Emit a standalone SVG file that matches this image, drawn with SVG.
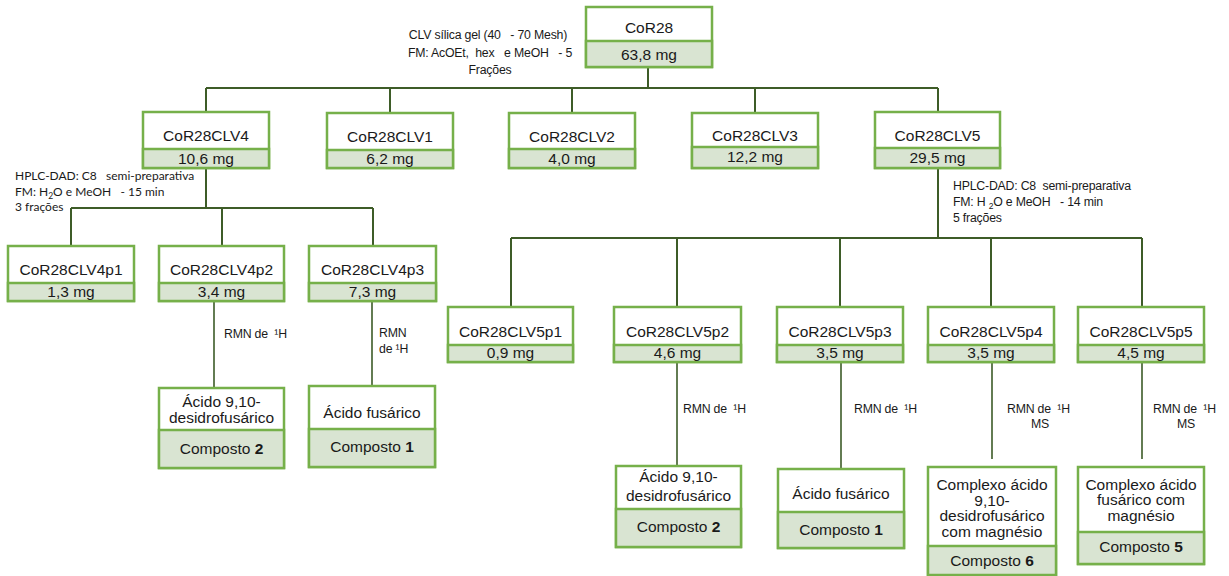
<svg xmlns="http://www.w3.org/2000/svg" width="1229" height="576" viewBox="0 0 1229 576">
<defs>
<style>
.bg{fill:#ffffff}
.box{fill:#ffffff;stroke:#76b04a;stroke-width:2.5}
.mg{fill:#d9e4d2;stroke:#76b04a;stroke-width:2.5}
.t{font-family:"Liberation Sans",Arial,sans-serif;font-size:15.5px;fill:#1a1a1a;text-anchor:middle}
.lbl{font-family:"Liberation Sans",Arial,sans-serif;font-size:12.3px;fill:#1a1a1a;letter-spacing:-0.2px;white-space:pre}
.lblc{font-family:"Lato","Liberation Sans",sans-serif;font-size:12px;fill:#1a1a1a;white-space:pre}
.c{fill:none;stroke:#3e5c28;stroke-width:2}
.c2{fill:none;stroke:#3e5c28;stroke-width:1.6}
</style>
</defs>
<rect class="bg" x="0" y="0" width="1229" height="576"/>

<g id="connectors">
<path class="c" d="M648 67V88M206 88H938M206 88V112M390 88V113M572 88V113M755 88V113M938 88V112"/>
<path class="c" d="M206 168V208M71 208H373M71 208V246M222 208V246M373 208V246"/>
<path class="c" d="M938 168V238M511 238H1142M511 238V307M677 238V307M840 238V307M991 238V307M1142 238V307"/>
<path class="c2" d="M214 301V388M372 301V386M677 362V466M841 362V469M992 362V459M1142 362V459"/>
</g>

<g id="labels" xml:space="preserve">
<text class="lbl" text-anchor="middle" x="488" y="39">CLV sílica gel (40   - 70 Mesh)</text>
<text class="lbl" text-anchor="middle" x="490" y="57">FM: AcOEt,  hex   e MeOH   - 5</text>
<text class="lbl" text-anchor="middle" x="490" y="74">Frações</text>
<text class="lblc" x="15" y="180">HPLC-DAD: C8   semi-preparativa</text>
<text class="lblc" x="15" y="196">FM: H<tspan font-size="8.5" dy="3">2</tspan><tspan dy="-3">O e MeOH   - 15 min</tspan></text>
<text class="lblc" x="15" y="211">3 frações</text>
<text class="lbl" x="953" y="190">HPLC-DAD: C8  semi-preparativa</text>
<text class="lbl" x="953" y="206">FM: H <tspan font-size="8.5" dy="3">2</tspan><tspan dy="-3">O e MeOH   - 14 min</tspan></text>
<text class="lbl" x="953" y="222">5 frações</text>
<text class="lbl" x="224" y="338">RMN de  ¹H</text>
<text class="lbl" x="379" y="337">RMN</text>
<text class="lbl" x="379" y="353">de ¹H</text>
<text class="lbl" x="683" y="413">RMN de  ¹H</text>
<text class="lbl" x="854" y="413">RMN de  ¹H</text>
<text class="lbl" x="1007" y="413">RMN de  ¹H</text>
<text class="lbl" x="1040" y="428" text-anchor="middle">MS</text>
<text class="lbl" x="1153" y="413">RMN de  ¹H</text>
<text class="lbl" x="1186" y="428" text-anchor="middle">MS</text>
</g>

<g id="CoR28">
<rect class="box" x="586" y="7" width="126" height="60"/>
<rect class="mg" x="586" y="41" width="126" height="26"/>
<text class="t" x="649" y="33">CoR28</text>
<text class="t" x="649" y="60" font-size="16">63,8 mg</text>
</g>

<g id="CoR28CLV4">
<rect class="box" x="143" y="112" width="126" height="56"/>
<rect class="mg" x="143" y="149" width="126" height="19"/>
<text class="t" x="206" y="141">CoR28CLV4</text>
<text class="t" x="206" y="164" font-size="16">10,6 mg</text>
</g>
<g id="CoR28CLV1">
<rect class="box" x="327" y="113" width="126" height="55"/>
<rect class="mg" x="327" y="150" width="126" height="18"/>
<text class="t" x="390" y="142">CoR28CLV1</text>
<text class="t" x="390" y="164" font-size="16">6,2 mg</text>
</g>
<g id="CoR28CLV2">
<rect class="box" x="509" y="113" width="126" height="55"/>
<rect class="mg" x="509" y="149" width="126" height="19"/>
<text class="t" x="572" y="142">CoR28CLV2</text>
<text class="t" x="572" y="164" font-size="16">4,0 mg</text>
</g>
<g id="CoR28CLV3">
<rect class="box" x="692" y="113" width="126" height="55"/>
<rect class="mg" x="692" y="147" width="126" height="21"/>
<text class="t" x="755" y="141">CoR28CLV3</text>
<text class="t" x="755" y="162" font-size="16">12,2 mg</text>
</g>
<g id="CoR28CLV5">
<rect class="box" x="875" y="112" width="125" height="56"/>
<rect class="mg" x="875" y="148" width="125" height="20"/>
<text class="t" x="937.5" y="141">CoR28CLV5</text>
<text class="t" x="937.5" y="163" font-size="16">29,5 mg</text>
</g>

<g id="CoR28CLV4p1">
<rect class="box" x="8" y="246" width="126" height="55"/>
<rect class="mg" x="8" y="283" width="126" height="18"/>
<text class="t" x="71" y="275">CoR28CLV4p1</text>
<text class="t" x="71" y="297" font-size="16">1,3 mg</text>
</g>
<g id="CoR28CLV4p2">
<rect class="box" x="159" y="246" width="125" height="55"/>
<rect class="mg" x="159" y="283" width="125" height="18"/>
<text class="t" x="221.5" y="275">CoR28CLV4p2</text>
<text class="t" x="221.5" y="297" font-size="16">3,4 mg</text>
</g>
<g id="CoR28CLV4p3">
<rect class="box" x="309" y="246" width="127" height="55"/>
<rect class="mg" x="309" y="283" width="127" height="18"/>
<text class="t" x="372.5" y="275">CoR28CLV4p3</text>
<text class="t" x="372.5" y="297" font-size="16">7,3 mg</text>
</g>

<g id="CoR28CLV5p1">
<rect class="box" x="448" y="307" width="125" height="55"/>
<rect class="mg" x="448" y="345" width="125" height="17"/>
<text class="t" x="510.5" y="337">CoR28CLV5p1</text>
<text class="t" x="510.5" y="358" font-size="16">0,9 mg</text>
</g>
<g id="CoR28CLV5p2">
<rect class="box" x="614" y="307" width="127" height="55"/>
<rect class="mg" x="614" y="345" width="127" height="17"/>
<text class="t" x="677.5" y="337">CoR28CLV5p2</text>
<text class="t" x="677.5" y="358" font-size="16">4,6 mg</text>
</g>
<g id="CoR28CLV5p3">
<rect class="box" x="777" y="307" width="126" height="55"/>
<rect class="mg" x="777" y="345" width="126" height="17"/>
<text class="t" x="840" y="337">CoR28CLV5p3</text>
<text class="t" x="840" y="358" font-size="16">3,5 mg</text>
</g>
<g id="CoR28CLV5p4">
<rect class="box" x="928" y="307" width="126" height="55"/>
<rect class="mg" x="928" y="345" width="126" height="17"/>
<text class="t" x="991" y="337">CoR28CLV5p4</text>
<text class="t" x="991" y="358" font-size="16">3,5 mg</text>
</g>
<g id="CoR28CLV5p5">
<rect class="box" x="1078" y="307" width="126" height="55"/>
<rect class="mg" x="1078" y="345" width="126" height="17"/>
<text class="t" x="1141" y="337">CoR28CLV5p5</text>
<text class="t" x="1141" y="358" font-size="16">4,5 mg</text>
</g>

<g id="composto2a">
<rect class="box" x="159" y="388" width="125" height="80"/>
<rect class="mg" x="159" y="430" width="125" height="38"/>
<text class="t" x="221.5" y="407">Ácido 9,10-</text>
<text class="t" x="221.5" y="423">desidrofusárico</text>
<text class="t" x="221.5" y="454">Composto <tspan font-weight="bold">2</tspan></text>
</g>
<g id="composto1a">
<rect class="box" x="309" y="386" width="126" height="81"/>
<rect class="mg" x="309" y="429" width="126" height="38"/>
<text class="t" x="372" y="418">Ácido fusárico</text>
<text class="t" x="372" y="452">Composto <tspan font-weight="bold">1</tspan></text>
</g>
<g id="composto2b">
<rect class="box" x="616" y="466" width="125" height="81"/>
<rect class="mg" x="616" y="509" width="125" height="38"/>
<text class="t" x="678.5" y="482">Ácido 9,10-</text>
<text class="t" x="678.5" y="501">desidrofusárico</text>
<text class="t" x="678.5" y="532">Composto <tspan font-weight="bold">2</tspan></text>
</g>
<g id="composto1b">
<rect class="box" x="778" y="469" width="126" height="79"/>
<rect class="mg" x="778" y="512" width="126" height="36"/>
<text class="t" x="841" y="499">Ácido fusárico</text>
<text class="t" x="841" y="535">Composto <tspan font-weight="bold">1</tspan></text>
</g>
<g id="composto6">
<rect class="box" x="928" y="467" width="128" height="108"/>
<rect class="mg" x="928" y="546" width="128" height="29"/>
<text class="t" x="992" y="490">Complexo ácido</text>
<text class="t" x="992" y="506">9,10-</text>
<text class="t" x="992" y="521">desidrofusárico</text>
<text class="t" x="992" y="537">com magnésio</text>
<text class="t" x="992" y="566">Composto <tspan font-weight="bold">6</tspan></text>
</g>
<g id="composto5">
<rect class="box" x="1078" y="467" width="126" height="97"/>
<rect class="mg" x="1078" y="532" width="126" height="32"/>
<text class="t" x="1141" y="490">Complexo ácido</text>
<text class="t" x="1141" y="505">fusárico com</text>
<text class="t" x="1141" y="521">magnésio</text>
<text class="t" x="1141" y="552">Composto <tspan font-weight="bold">5</tspan></text>
</g>
</svg>
